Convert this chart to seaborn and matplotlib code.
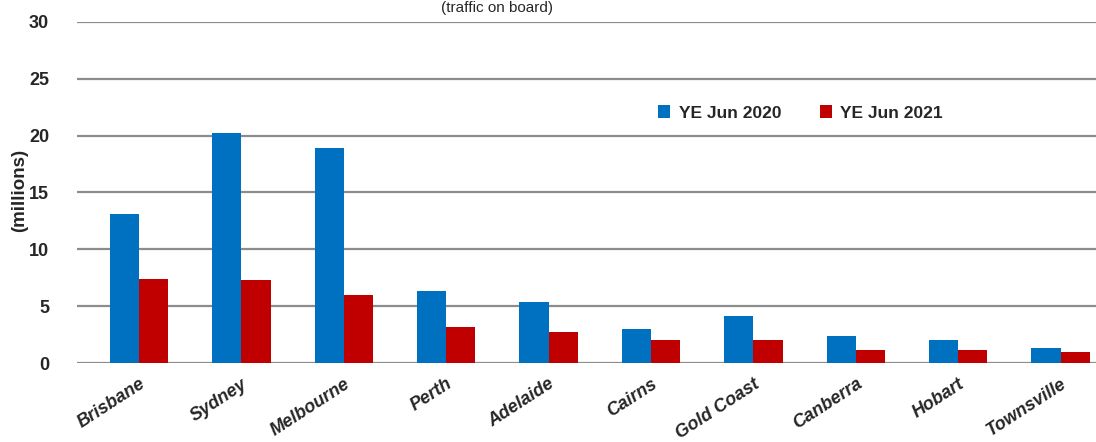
import pandas as pd
import matplotlib.pyplot as plt
import seaborn as sns

airports = ["Brisbane", "Sydney", "Melbourne", "Perth", "Adelaide",
            "Cairns", "Gold Coast", "Canberra", "Hobart", "Townsville"]
ye_jun_2020 = [13.1, 20.2, 18.9, 6.3, 5.35, 3.0, 4.1, 2.35, 2.05, 1.3]
ye_jun_2021 = [7.4, 7.3, 6.0, 3.15, 2.7, 2.05, 2.05, 1.15, 1.15, 0.95]
series = ["YE Jun 2020", "YE Jun 2021"]
colors = ["#0070C0", "#C00000"]

df = pd.DataFrame({
    "airport": airports * 2,
    "period": [series[0]] * len(airports) + [series[1]] * len(airports),
    "passengers": ye_jun_2020 + ye_jun_2021,
})

sns.set_style("white")
plt.rcParams["font.family"] = ["Liberation Sans", "DejaVu Sans"]

fig = plt.figure(figsize=(10.96, 4.42), dpi=100)
ax = fig.add_axes([77 / 1096, 1 - 363 / 442, 1019 / 1096, 341 / 442])

sns.barplot(data=df, x="airport", y="passengers", hue="period",
            palette=colors, width=0.57, saturation=1, ax=ax, zorder=3,
            linewidth=0, edgecolor="none")

ax.set_ylim(0, 30)
ax.set_xlim(-0.605, 9.345)
ax.set_yticks(range(0, 31, 5))
ax.yaxis.grid(True, color="#8c8c8c", linewidth=1.6, zorder=0)
ax.set_axisbelow(True)
for s in ax.spines.values():
    s.set_visible(False)
ax.tick_params(axis="both", length=0)
ax.tick_params(axis="y", pad=20)
ax.set_xlabel("")
ax.set_ylabel("")

for lbl in ax.get_yticklabels():
    lbl.set_fontweight("bold")
    lbl.set_fontsize(13)
ax.set_xticks(range(len(airports)))
ax.set_xticklabels(airports, rotation=33, ha="right", rotation_mode="anchor",
                   fontsize=13, fontweight="bold", fontstyle="italic")
ax.tick_params(axis="x", pad=9)

fig.text(20 / 1096, 1 - 190 / 442, "(millions)", rotation=90, ha="center",
         va="center", fontsize=13.5, fontweight="bold")
fig.text(497 / 1096, 0.998, "(traffic on board)", ha="center", va="top",
         fontsize=11)

ax.legend(title=None, ncol=2, frameon=False, loc="center",
          bbox_to_anchor=(0.71, 0.733), handlelength=0.7, handleheight=0.7,
          handletextpad=0.5, columnspacing=2.2,
          prop={"weight": "bold", "size": 12.5})

plt.savefig("out.png", dpi=100)
